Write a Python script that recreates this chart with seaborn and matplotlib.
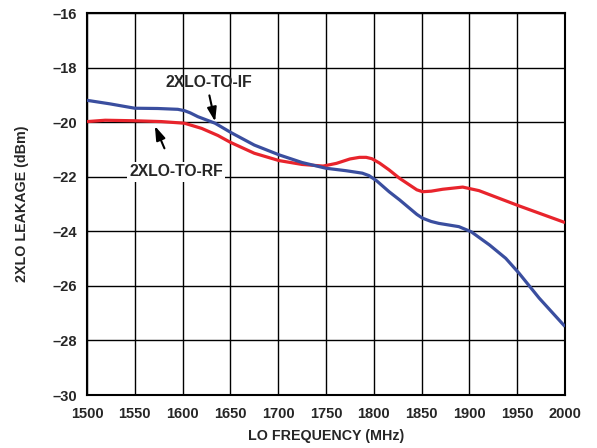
import matplotlib
matplotlib.use("Agg")
import matplotlib.pyplot as plt
import seaborn as sns
import pandas as pd

freq_if = [1500, 1524, 1550, 1574, 1595, 1602, 1608, 1616, 1634, 1651, 1675, 1701, 1725, 1750,
           1771, 1788, 1795, 1803, 1816, 1827, 1845, 1851, 1860, 1868, 1889, 1902, 1921, 1938,
           1952, 1973, 2000]
lo_to_if = [-19.20, -19.33, -19.49, -19.50, -19.53, -19.58, -19.66, -19.80, -20.04, -20.39,
            -20.84, -21.20, -21.48, -21.69, -21.78, -21.87, -21.96, -22.15, -22.55, -22.85,
            -23.38, -23.52, -23.64, -23.71, -23.83, -24.02, -24.50, -24.99, -25.54, -26.45, -27.49]

freq_rf = [1500, 1519, 1550, 1578, 1602, 1620, 1637, 1650, 1675, 1701, 1725, 1747, 1761,
           1775, 1785, 1792, 1798, 1806, 1816, 1827, 1845, 1851, 1860, 1872, 1893, 1910, 1952, 2000]
lo_to_rf = [-19.98, -19.93, -19.95, -19.98, -20.04, -20.23, -20.49, -20.74, -21.14, -21.41,
            -21.55, -21.61, -21.51, -21.35, -21.29, -21.29, -21.34, -21.50, -21.75, -22.06,
            -22.48, -22.55, -22.53, -22.46, -22.38, -22.51, -23.07, -23.68]

x_ticks = [1500, 1550, 1600, 1650, 1700, 1750, 1800, 1850, 1900, 1950, 2000]
y_ticks = [-30, -28, -26, -24, -22, -20, -18, -16]
y_tick_labels = ["–30", "–28", "–26", "–24", "–22", "–20", "–18", "–16"]

sns.set_style("white")
plt.rcParams['font.family'] = ['Liberation Sans', 'DejaVu Sans']
plt.rcParams['font.weight'] = 'bold'

fig = plt.figure(figsize=(5.97, 4.48), dpi=100)
ax = fig.add_axes([87/597, 1 - 395/448, (565 - 87)/597, (395 - 13)/448])

df_if = pd.DataFrame({"freq": freq_if, "val": lo_to_if})
df_rf = pd.DataFrame({"freq": freq_rf, "val": lo_to_rf})
sns.lineplot(data=df_rf, x="freq", y="val", color="#e8242c", lw=2.3, ax=ax, zorder=3)
sns.lineplot(data=df_if, x="freq", y="val", color="#3a4e9f", lw=2.3, ax=ax, zorder=3)
for ln in ax.lines:
    ln.set_solid_joinstyle('round')
    ln.set_solid_capstyle('butt')

ax.set_xlim(1500, 2000)
ax.set_ylim(-30, -16)
ax.set_xticks(x_ticks)
ax.set_xticklabels([str(v) for v in x_ticks], fontsize=10.5, fontweight='bold')
ax.set_yticks(y_ticks)
ax.set_yticklabels(y_tick_labels, fontsize=10.5, fontweight='bold')
ax.tick_params(axis='y', length=0, pad=7)
ax.tick_params(axis='x', length=0, pad=8.5)
ax.grid(True, color='black', lw=1.0)
ax.set_axisbelow(True)
for s in ax.spines.values():
    s.set_color('black')
    s.set_linewidth(1.5)

ax.set_xlabel("LO FREQUENCY (MHz)", fontsize=10.3, fontweight='bold', labelpad=6)
ax.set_ylabel("2XLO LEAKAGE (dBm)", fontsize=10.3, fontweight='bold', labelpad=17)

arrow_kw = dict(arrowstyle='-|>,head_length=0.6,head_width=0.2', color='black',
                lw=1.5, mutation_scale=14, shrinkA=0, shrinkB=0)
ax.text(1628, -18.56, "2XLO-TO-IF", ha='center', va='center', fontsize=11.3,
        fontweight='bold', zorder=5)
ax.annotate("", xy=(1634, -19.98), xytext=(1628, -19.02), arrowprops=arrow_kw, zorder=5)
ax.text(1593, -21.82, "2XLO-TO-RF", ha='center', va='center', fontsize=11.3,
        fontweight='bold', zorder=5,
        bbox=dict(boxstyle='square,pad=0.15', fc='white', ec='none'))
ax.annotate("", xy=(1571, -20.14), xytext=(1581, -20.96), arrowprops=arrow_kw, zorder=5)

fig.savefig("out.png", dpi=100)
